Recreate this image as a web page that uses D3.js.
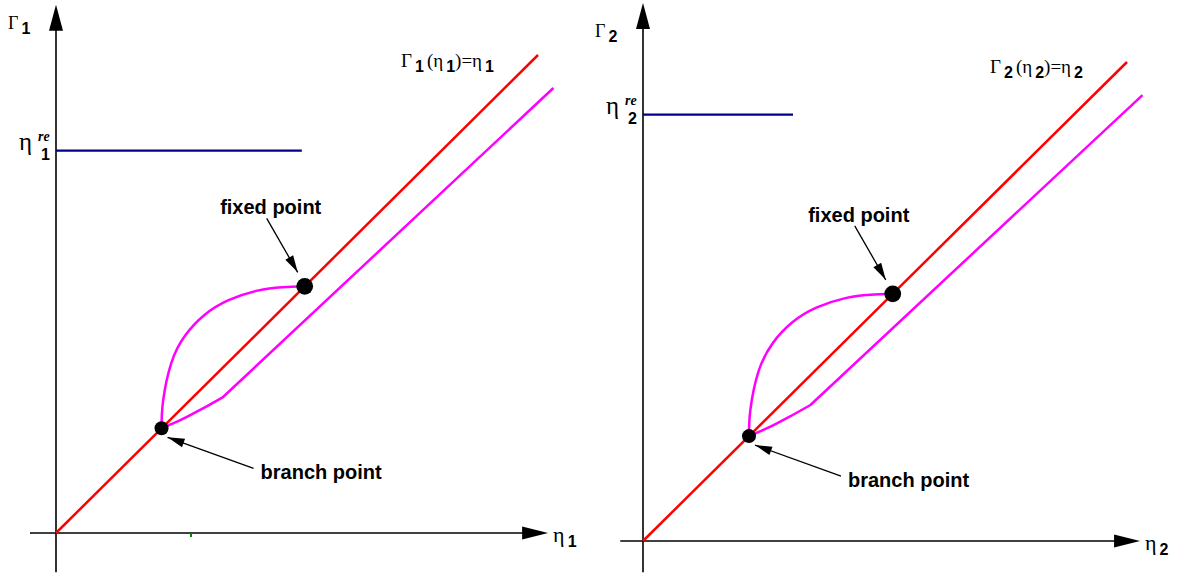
<!DOCTYPE html>
<html>
<head>
<meta charset="utf-8">
<script src="https://cdn.jsdelivr.net/npm/d3@7"></script>
<style>
  html, body { margin: 0; padding: 0; background: #fff; }
  svg { display: block; }
  .serif { font-family: "Liberation Serif", "DejaVu Serif", serif; }
  .sans  { font-family: "Liberation Sans", Arial, sans-serif; }
</style>
</head>
<body>
<svg id="chart" width="1184" height="577"></svg>
<script>
// Panel indices (subscript of Γ and η)
const panelIds = ["1", "2"];

// Identity line Γ(η) = η, in axis units
const identityLine = [[0, 0], [100, 100]];

// Fixed point and branch point (both on the identity line)
const fixedPoint = [51.6, 51.6];
const branchPoint = [21.9, 21.9];

// Lower magenta branch: leaves the branch point, bends, then runs alongside the identity line
const lowerBranch = [[21.9, 21.9], [26.0, 23.7], [30.0, 25.8], [34.6, 28.4], [103.2, 93.1]];
const lowerBendIndex = 3; // curved up to here, straight afterwards

// Upper magenta arc from the branch point to the fixed point
const upperArc = [[21.9, 22.0], [22.2, 27.5], [23.9, 35.5], [26.8, 41.3], [30.8, 45.6],
                  [35.8, 48.7], [41.8, 50.7], [47.0, 51.4], [51.6, 51.6]];

// η^re level and the extent of its horizontal marker, per panel
const reLevels = [80, 89];
const reExtents = [51, 31];

// Small green tick on the first panel's horizontal axis
const greenTicks = [[28], []];

// Axis extents in units: [min, max]
const xAxisExtent = [[-5.4, 102.1], [-4.7, 102.7]];
const yAxisExtent = [[-8.2, 110.5], [-6.5, 112.3]];

const svg = d3.select("#chart");

// Pixel frame of each panel
const frames = [
  { x0: 56,  x1: 538,  y0: 533, y1: 55, gammaY: 29, eqDy: 12 },
  { x0: 643, x1: 1127, y0: 541, y1: 62, gammaY: 37, eqDy: 11 }
];

function subLabel(g, x, y, main, sub, opts) {
  const t = g.append("text").attr("x", x).attr("y", y)
    .attr("class", "serif").attr("font-size", opts.size).attr("fill", "#000");
  t.append("tspan").text(main);
  t.append("tspan").attr("class", "sans").attr("font-weight", "bold")
    .attr("font-size", opts.subSize).attr("dx", opts.gap || 2).attr("dy", opts.subDy).text(sub);
  return t;
}

function arrowHead(g, tip, tail, len, half) {
  const dx = tip[0] - tail[0], dy = tip[1] - tail[1];
  const d = Math.hypot(dx, dy), ux = dx / d, uy = dy / d;
  const bx = tip[0] - ux * len, by = tip[1] - uy * len;
  g.append("path")
    .attr("d", `M${tip[0]},${tip[1]}L${bx - uy * half},${by + ux * half}L${bx + uy * half},${by - ux * half}Z`)
    .attr("fill", "#000");
}

panelIds.forEach((id, i) => {
  const f = frames[i];
  const x = d3.scaleLinear().domain([0, 100]).range([f.x0, f.x1]);
  const y = d3.scaleLinear().domain([0, 100]).range([f.y0, f.y1]);
  const g = svg.append("g");
  const line = d3.line().x(d => x(d[0])).y(d => y(d[1]));

  // Axes
  const xa = xAxisExtent[i], ya = yAxisExtent[i];
  g.append("line").attr("x1", x(xa[0])).attr("x2", x(xa[1]) - 20)
    .attr("y1", y(0)).attr("y2", y(0)).attr("stroke", "#000").attr("stroke-width", 1.6);
  g.append("line").attr("x1", x(0)).attr("x2", x(0))
    .attr("y1", y(ya[0])).attr("y2", y(ya[1]) + 20).attr("stroke", "#000").attr("stroke-width", 1.6);
  arrowHead(g, [x(xa[1]), y(0)], [x(0), y(0)], 26, 6.5);
  arrowHead(g, [x(0), y(ya[1])], [x(0), y(0)], 26, 7);

  greenTicks[i].forEach(v => {
    g.append("line").attr("x1", x(v)).attr("x2", x(v)).attr("y1", y(0)).attr("y2", y(0) + 4)
      .attr("stroke", "#008000").attr("stroke-width", 2);
  });

  // η^re marker
  g.append("line").attr("x1", x(0)).attr("x2", x(reExtents[i]))
    .attr("y1", y(reLevels[i])).attr("y2", y(reLevels[i]))
    .attr("stroke", "#00008b").attr("stroke-width", 2.2);

  // Identity line
  g.append("path").attr("d", line(identityLine)).attr("fill", "none")
    .attr("stroke", "#ff0000").attr("stroke-width", 2.5);

  // Magenta branches: curved start of the lower branch, then its straight run
  const curved = d3.line().x(d => x(d[0])).y(d => y(d[1])).curve(d3.curveMonotoneX);
  const straight = d3.line().x(d => x(d[0])).y(d => y(d[1]));
  g.append("path")
    .attr("d", curved(lowerBranch.slice(0, lowerBendIndex + 1)) + straight(lowerBranch.slice(lowerBendIndex)).replace(/^M/, "L"))
    .attr("fill", "none").attr("stroke", "#ff00ff").attr("stroke-width", 2.5).attr("stroke-linejoin", "round");
  g.append("path").attr("d", line.curve(d3.curveNatural)(upperArc)).attr("fill", "none")
    .attr("stroke", "#ff00ff").attr("stroke-width", 2.5);

  // Points
  g.append("circle").attr("cx", x(fixedPoint[0])).attr("cy", y(fixedPoint[1])).attr("r", 8.4).attr("fill", "#000");
  g.append("circle").attr("cx", x(branchPoint[0])).attr("cy", y(branchPoint[1])).attr("r", 7).attr("fill", "#000");

  // Annotations
  const fp = [x(fixedPoint[0]), y(fixedPoint[1])];
  g.append("text").attr("x", fp[0] - 34).attr("y", fp[1] - 72).attr("text-anchor", "middle")
    .attr("class", "sans").attr("font-weight", "bold").attr("font-size", 20).text("fixed point");
  const fTail = [fp[0] - 38, fp[1] - 68], fTip = [fp[0] - 7, fp[1] - 14];
  g.append("line").attr("x1", fTail[0]).attr("y1", fTail[1]).attr("x2", fTip[0]).attr("y2", fTip[1])
    .attr("stroke", "#000").attr("stroke-width", 1.3);
  arrowHead(g, fTip, fTail, 17, 4.5);

  const bp = [x(branchPoint[0]), y(branchPoint[1])];
  g.append("text").attr("x", bp[0] + 99).attr("y", bp[1] + 51)
    .attr("class", "sans").attr("font-weight", "bold").attr("font-size", 20).text("branch point");
  const bTail = [bp[0] + 92, bp[1] + 40], bTip = [bp[0] + 6, bp[1] + 9];
  g.append("line").attr("x1", bTail[0]).attr("y1", bTail[1]).attr("x2", bTip[0]).attr("y2", bTip[1])
    .attr("stroke", "#000").attr("stroke-width", 1.3);
  arrowHead(g, bTip, bTail, 17, 4.5);

  // Axis labels
  subLabel(g, x(0) - 48, f.gammaY, "Γ", id, { size: 18, subSize: 16, subDy: 5, gap: 3 });
  subLabel(g, x(xa[1]) + 5, y(0) + 9, "η", id, { size: 22, subSize: 16, subDy: 5, gap: 3 });

  // η^re label
  const ry = y(reLevels[i]);
  const re = g.append("text").attr("x", x(0) - 37).attr("y", ry - 1)
    .attr("class", "serif").attr("font-size", 25).attr("fill", "#000");
  re.append("tspan").text("η");
  re.append("tspan").attr("class", "sans").attr("font-weight", "bold").attr("font-size", 16)
    .attr("x", x(0) - 15).attr("dy", 10).text(id);
  re.append("tspan").attr("font-weight", "bold").attr("font-style", "italic").attr("font-size", 14)
    .attr("x", x(0) - 18).attr("dy", -19).text("re");

  // Equation label at the end of the identity line
  const ex = x(identityLine[1][0]) - 137, ey = y(identityLine[1][1]) + f.eqDy;
  const eq = g.append("text").attr("x", ex).attr("y", ey)
    .attr("class", "serif").attr("font-size", 19).attr("fill", "#000");
  eq.append("tspan").text("Γ");
  eq.append("tspan").attr("class", "sans").attr("font-weight", "bold").attr("font-size", 16)
    .attr("dx", 3).attr("dy", 5).text(id);
  eq.append("tspan").attr("dx", 3).attr("dy", -5).text("(η");
  eq.append("tspan").attr("class", "sans").attr("font-weight", "bold").attr("font-size", 16)
    .attr("dx", 3).attr("dy", 5).text(id);
  eq.append("tspan").attr("dy", -5).text(")=η");
  eq.append("tspan").attr("class", "sans").attr("font-weight", "bold").attr("font-size", 16)
    .attr("dx", 3).attr("dy", 5).text(id);
});
</script>
</body>
</html>
